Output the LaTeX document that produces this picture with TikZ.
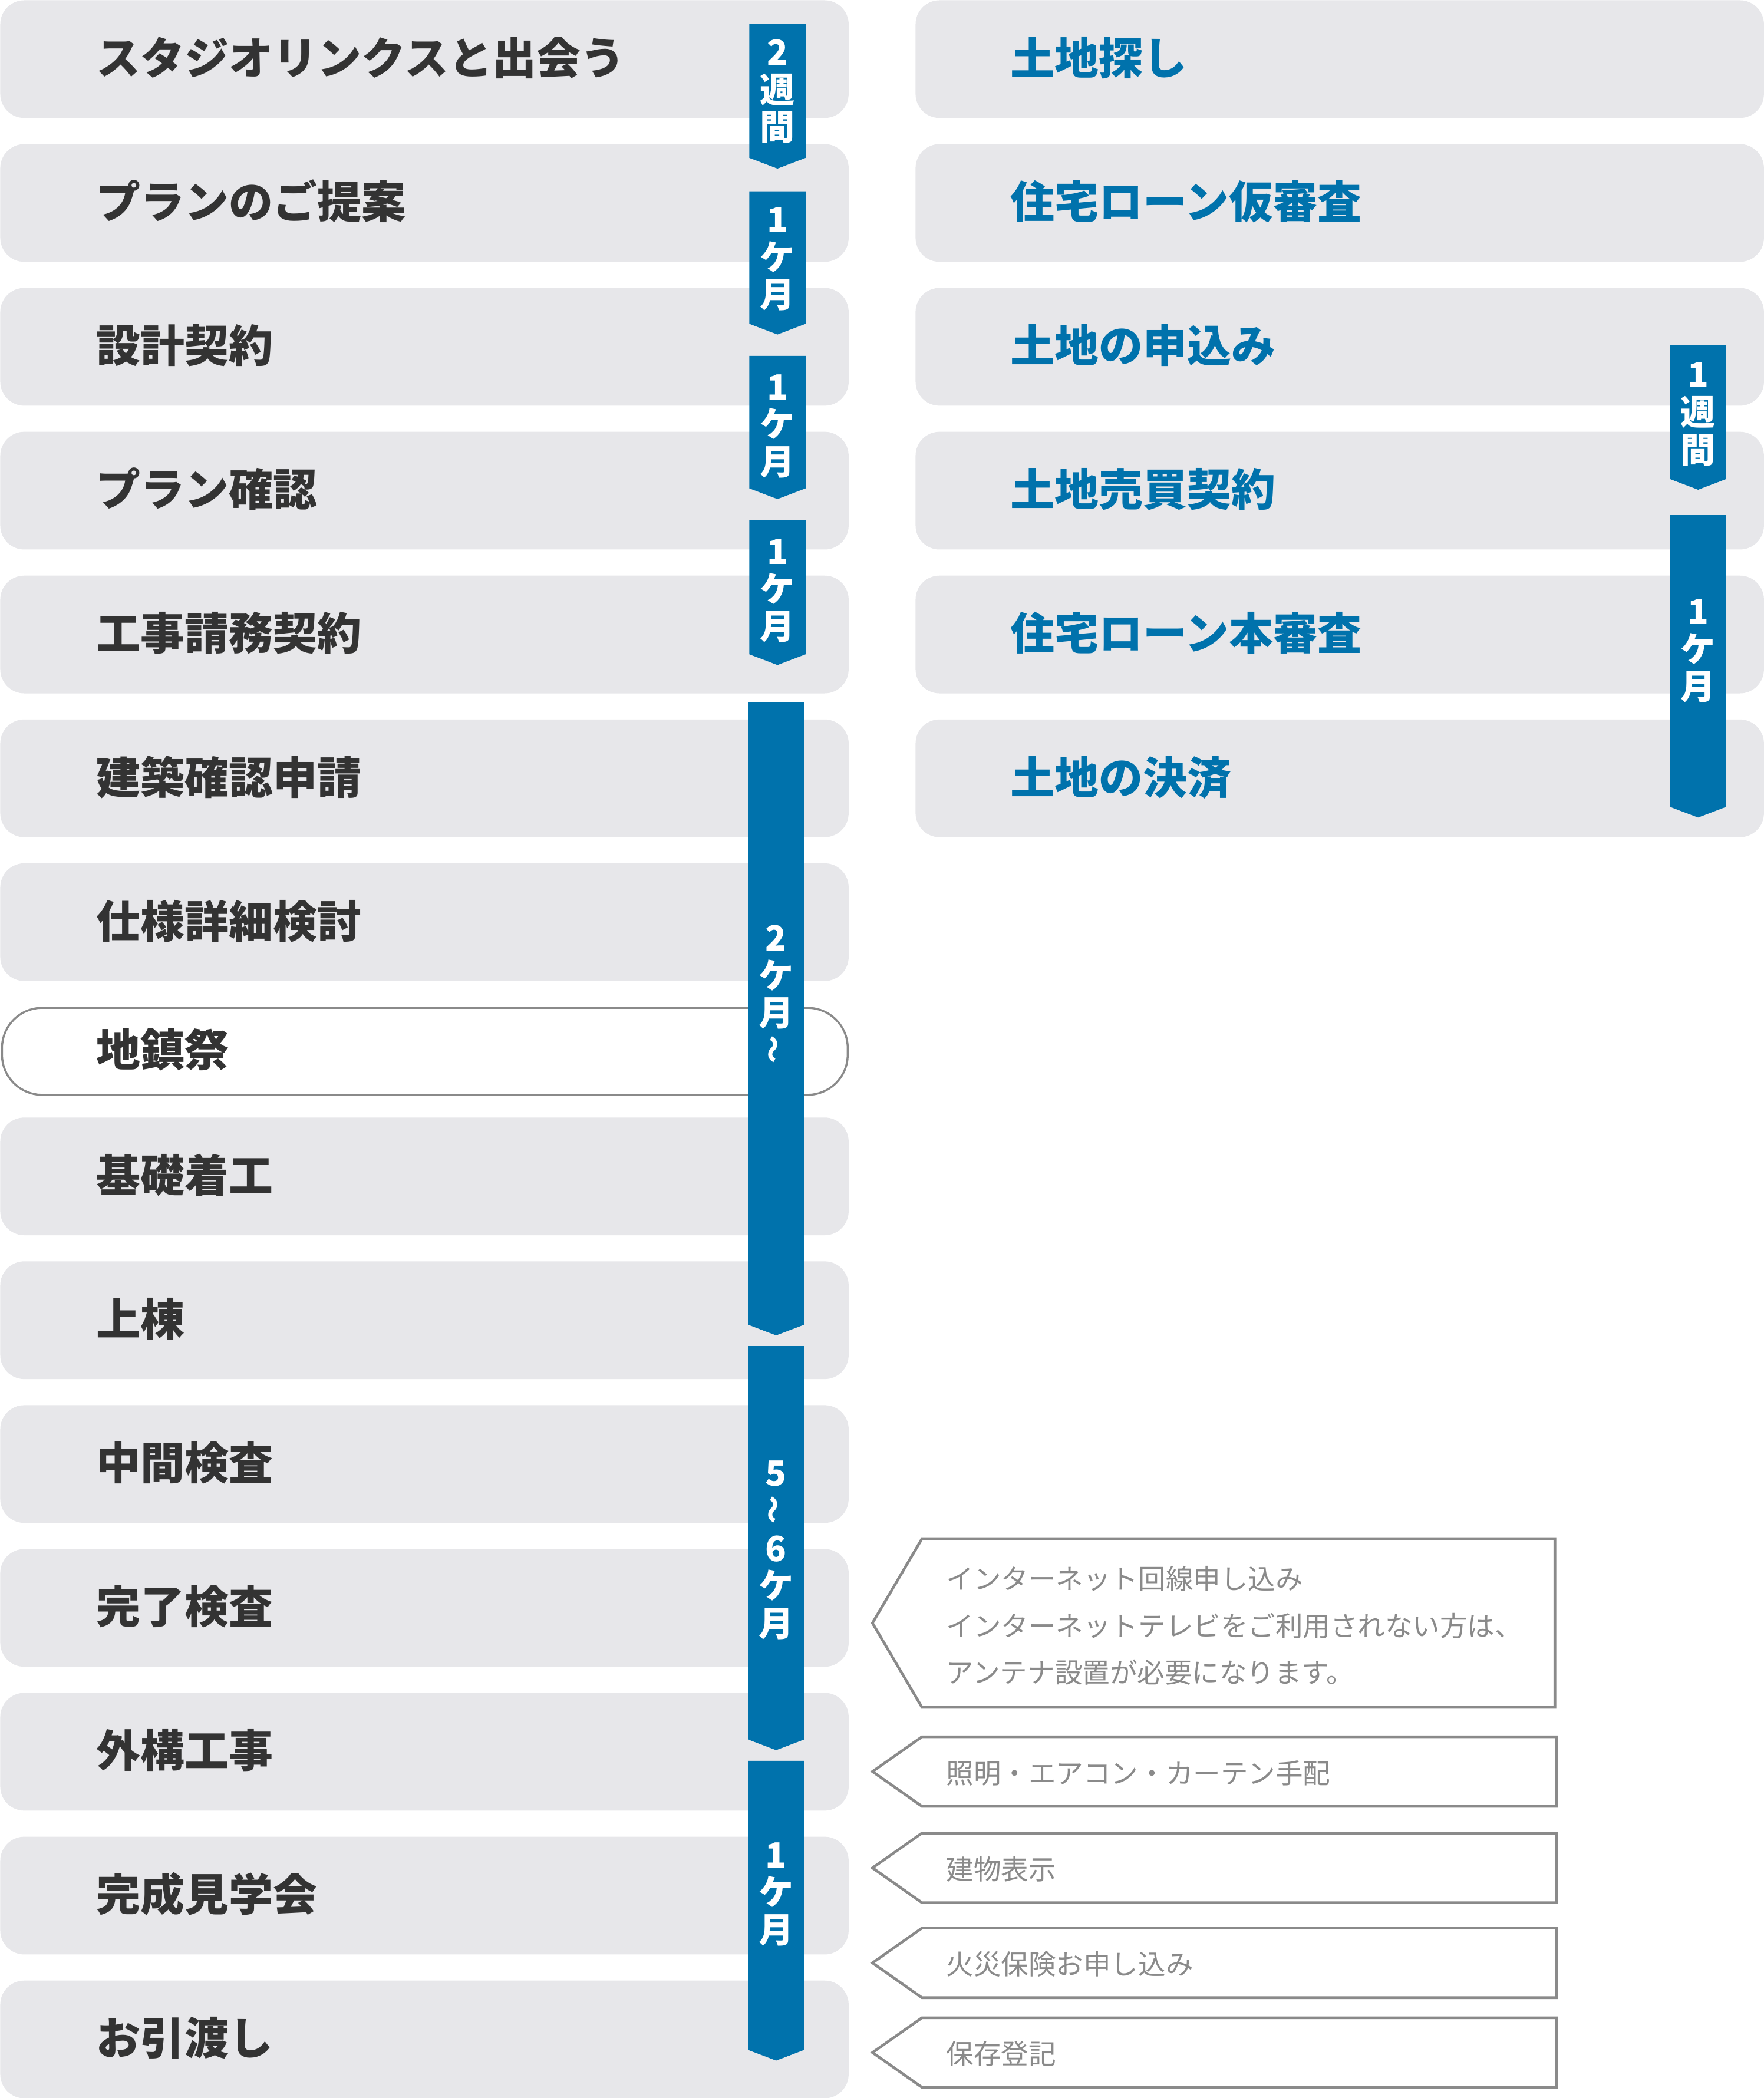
\documentclass[tikz,border=0pt]{standalone}
\usepackage{fontspec}
\newfontfamily\jp{Noto Sans CJK JP}
\definecolor{boxgray}{HTML}{E7E7EA}
\definecolor{blueC}{HTML}{0072AC}
\definecolor{textdark}{HTML}{333333}
\definecolor{cgray}{HTML}{8A8A8A}
\newcommand\vtilde{\rotatebox{90}{\scalebox{0.8}{〜}}}
\newcommand\blarrow[6]{%
  \path[fill=blueC] (#2-21,#3) -- (#2+21,#3) -- (#2+21,#4-8) -- (#2,#4) -- (#2-21,#4-8) -- cycle;
  \foreach \c [count=\i] in {#6} \node[ach] (#1-\i) at (#2,{#5+(\i-1)*28}) {\c};
}
\begin{document}
\begin{tikzpicture}[x=1pt,y=-1pt,
  gbox/.style={fill=boxgray, rounded corners=18pt, draw=none, minimum width=634pt, minimum height=88pt, anchor=north west, inner sep=0pt},
  wbox/.style={fill=white, draw=cgray, line width=1.5pt, rounded corners=30pt, minimum width=632pt, minimum height=65pt, anchor=north west, inner sep=0pt},
  lbl/.style={anchor=west, font=\jp\bfseries\fontsize{33}{36}\selectfont, text=textdark, inner sep=0pt, text height=0.88em, text depth=0.12em, yshift=-8pt},
  rlbl/.style={lbl, text=blueC},
  ach/.style={font=\jp\bfseries\fontsize{26}{28}\selectfont, text=white, inner sep=0pt, text height=0.88em, text depth=0.12em, yshift=-5pt},
  ctxt/.style={anchor=west, font=\jp\fontsize{20.5}{24}\selectfont, text=cgray, inner sep=0pt, text height=0.88em, text depth=0.12em, yshift=-4pt},
  cshape/.style={draw=cgray, line width=2pt, fill=white, line join=miter}
]
\useasboundingbox (0,0) rectangle (1318,1568);

% left column boxes
\foreach \t [count=\k] in {0,107.5,215,322.5,430,537.5,645,835,942.5,1050,1157.5,1265,1372.5,1480}
  \node[gbox] (L\k) at (0,\t) {};
\node[wbox] (Lj) at (0.75,752.5) {};

% right column boxes
\foreach \t [count=\k] in {0,107.5,215,322.5,430,537.5}
  \node[gbox] (R\k) at (684,\t) {};

% left labels
\node[lbl] (t1) at (72,44) {スタジオリンクスと出会う};
\node[lbl] (t2) at (72,151.5) {プランのご提案};
\node[lbl] (t3) at (72,259) {設計契約};
\node[lbl] (t4) at (72,366.5) {プラン確認};
\node[lbl] (t5) at (72,474) {工事請務契約};
\node[lbl] (t6) at (72,581.5) {建築確認申請};
\node[lbl] (t7) at (72,689) {仕様詳細検討};
\node[lbl] (t8) at (72,785) {地鎮祭};
\node[lbl] (t9) at (72,879) {基礎着工};
\node[lbl] (t10) at (72,986.5) {上棟};
\node[lbl] (t11) at (72,1094) {中間検査};
\node[lbl] (t12) at (72,1201.5) {完了検査};
\node[lbl] (t13) at (72,1309) {外構工事};
\node[lbl] (t14) at (72,1416.5) {完成見学会};
\node[lbl] (t15) at (72,1524) {お引渡し};

% right labels
\node[rlbl] (r1) at (755,44) {土地探し};
\node[rlbl] (r2) at (755,151.5) {住宅ローン仮審査};
\node[rlbl] (r3) at (755,259) {土地の申込み};
\node[rlbl] (r4) at (755,366.5) {土地売買契約};
\node[rlbl] (r5) at (755,474) {住宅ローン本審査};
\node[rlbl] (r6) at (755,581.5) {土地の決済};

% blue duration arrows
\blarrow{a1}{581}{18}{126}{40}{2,週,間}
\blarrow{a2}{581}{143}{250}{165}{1,ケ,月}
\blarrow{a3}{581}{266}{373}{290}{1,ケ,月}
\blarrow{a4}{581}{389}{497}{413}{1,ケ,月}
\blarrow{a5}{580}{525}{998}{702}{2,ケ,月,\vtilde}
\blarrow{a6}{580}{1006}{1308}{1102}{5,\vtilde,6,ケ,月}
\blarrow{a7}{580}{1316}{1540}{1387}{1,ケ,月}
\blarrow{b1}{1269}{258}{366}{281}{1,週,間}
\blarrow{b2}{1269}{385}{611}{458}{1,ケ,月}

% callouts
\draw[cshape] (652,1213) -- (689,1150) -- (1162,1150) -- (1162,1276) -- (689,1276) -- cycle;
\node[ctxt] (c1a) at (707,1180) {インターネット回線申し込み};
\node[ctxt] (c1b) at (707,1215) {インターネットテレビをご利用されない方は、};
\node[ctxt] (c1c) at (707,1250) {アンテナ設置が必要になります。};

\draw[cshape] (652,1324) -- (689,1298) -- (1163,1298) -- (1163,1350) -- (689,1350) -- cycle;
\node[ctxt] (c2) at (707,1325) {照明・エアコン・カーテン手配};

\draw[cshape] (652,1396) -- (689,1370) -- (1163,1370) -- (1163,1422) -- (689,1422) -- cycle;
\node[ctxt] (c3) at (707,1397) {建物表示};

\draw[cshape] (652,1467) -- (689,1441) -- (1163,1441) -- (1163,1493) -- (689,1493) -- cycle;
\node[ctxt] (c4) at (707,1468) {火災保険お申し込み};

\draw[cshape] (652,1534) -- (689,1508) -- (1163,1508) -- (1163,1560) -- (689,1560) -- cycle;
\node[ctxt] (c5) at (707,1535) {保存登記};
\end{tikzpicture}
\end{document}
